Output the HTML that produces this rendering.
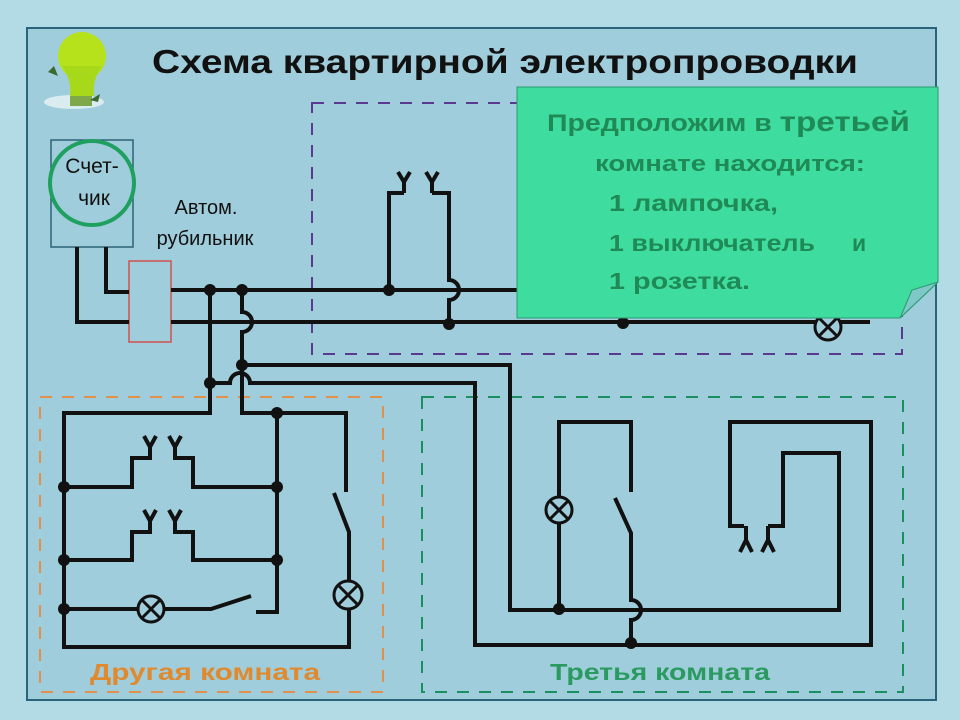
<!DOCTYPE html>
<html><head><meta charset="utf-8"><style>
html,body{margin:0;padding:0;background:#b3dbe5;}
svg{display:block}
text{font-family:"Liberation Sans","DejaVu Sans",sans-serif}
</style></head><body>
<svg width="960" height="720" viewBox="0 0 960 720" xmlns="http://www.w3.org/2000/svg">
<rect x="0" y="0" width="960" height="720" fill="#b3dbe5"/>
<rect x="27" y="28" width="909" height="672" fill="#a0cddb" stroke="#2a6478" stroke-width="2"/>
<!-- bulb -->
<ellipse cx="74" cy="102" rx="30" ry="7" fill="#e8f4f4" opacity="0.8"/>
<circle cx="82" cy="56" r="24" fill="#b6e21c"/>
<path d="M62 66 Q72 80 70 96 L94 96 Q92 80 102 66 Z" fill="#a8d81a"/>
<rect x="70" y="96" width="22" height="10" fill="#7fa84a"/>
<path d="M48 72 l6 -6 l4 10 z" fill="#3a6a30"/>
<path d="M90 100 l10 -6 l-2 8 z" fill="#3a6a30"/>
<!-- title -->
<text x="152" y="73" font-size="33" font-weight="bold" fill="#111" textLength="706" lengthAdjust="spacingAndGlyphs">Схема квартирной электропроводки</text>
<!-- meter -->
<rect x="51" y="140" width="82" height="107" fill="none" stroke="#2a6478" stroke-width="1.5"/>
<circle cx="92" cy="183" r="42" fill="none" stroke="#1fa060" stroke-width="4"/>
<text x="92" y="173" font-size="21" text-anchor="middle" fill="#111">Счет-</text>
<text x="94" y="205" font-size="21" text-anchor="middle" fill="#111">чик</text>
<text x="206" y="214" font-size="20" text-anchor="middle" fill="#111">Автом.</text>
<text x="205" y="245" font-size="20" text-anchor="middle" fill="#111">рубильник</text>
<rect x="129" y="261" width="42" height="81" fill="none" stroke="#d05050" stroke-width="1.5"/>
<!-- dashed rooms -->
<path d="M312 103 H902 V354 H312 Z" fill="none" stroke="#5a3a90" stroke-width="2" stroke-dasharray="12,10"/>
<path d="M40 397 H383 V692 H40 Z" fill="none" stroke="#e0904a" stroke-width="2" stroke-dasharray="12,10"/>
<path d="M422 397 H903 V692 H422 Z" fill="none" stroke="#1a9060" stroke-width="2" stroke-dasharray="12,10"/>
<g fill="none" stroke="#111" stroke-width="4">
<path d="M77 247 V322 H129"/>
<path d="M106 247 V292 H129"/>
<path d="M171 290 H915"/>
<path d="M171 322 H870"/>
<path d="M210 290 V413 H64 V647 H349 V610"/>
<path d="M242 290 V312 A10 10 0 0 1 242 332 V413 H346 V492"/>
<path d="M210 383 H230 A10 10 0 0 1 250 383 H475 V645 H871 V422 H730 V526 H744"/>
<path d="M242 365 H510 V610 H839 V453 H783 V526 H768"/>
<path d="M389 290 V193 H404"/>
<path d="M432 193 H449 V280 A10 10 0 0 1 449 300 V324"/>
<path d="M404 193 V182 M398 172 L404 182 L410 172"/>
<path d="M432 193 V182 M426 172 L432 182 L438 172"/>
<path d="M277 413 V612 H256"/>
<path d="M334 493 L349 532 V581"/>
<path d="M64 487 H132 V458 H150 V447 M144 436 L150 447 L156 436"/>
<path d="M175 447 V458 H193 V487 H277 M169 436 L175 447 L181 436"/>
<path d="M64 560 H132 V532 H150 V521 M144 510 L150 521 L156 510"/>
<path d="M175 521 V532 H193 V560 H277 M169 510 L175 521 L181 510"/>
<path d="M64 609 H138 M164 609 H211 L251 596"/>
<path d="M559 610 V523 M559 497 V422 H631 V492"/>
<path d="M615 498 L631 533 V600 A10 10 0 0 1 631 620 V645"/>
<path d="M746 526 V540 M740 552 L746 540 L752 552"/>
<path d="M768 526 V540 M762 552 L768 540 L774 552"/>
</g>
<g fill="#a0cddb" stroke="#111" stroke-width="3">
<circle cx="151" cy="609" r="13"/><path d="M142 600 L160 618 M160 600 L142 618"/>
<circle cx="348" cy="595" r="14"/><path d="M338 585 L358 605 M358 585 L338 605"/>
<circle cx="559" cy="510" r="13"/><path d="M550 501 L568 519 M568 501 L550 519"/>
<circle cx="828" cy="327" r="13"/><path d="M819 318 L837 336 M837 318 L819 336"/>
</g>
<g fill="#111">
<circle cx="210" cy="290" r="6"/><circle cx="242" cy="290" r="6"/>
<circle cx="210" cy="383" r="6"/><circle cx="242" cy="365" r="6"/>
<circle cx="389" cy="290" r="6"/><circle cx="449" cy="324" r="6"/><circle cx="623" cy="323" r="6"/>
<circle cx="277" cy="413" r="6"/><circle cx="64" cy="487" r="6"/><circle cx="277" cy="487" r="6"/>
<circle cx="64" cy="560" r="6"/><circle cx="277" cy="560" r="6"/><circle cx="64" cy="609" r="6"/>
<circle cx="559" cy="609" r="6"/><circle cx="631" cy="643" r="6"/>
</g>
<!-- note -->
<path d="M517 87 H938 V282 L900 318 H517 Z" fill="#3fdc9f" stroke="#2a9a70" stroke-width="1"/>
<path d="M938 282 L900 318 L912 290 Z" fill="#7ec8c8" stroke="#2a9a70" stroke-width="1"/>
<g fill="#1f8a55" font-weight="bold">
<text x="547" y="131" font-size="24" textLength="363" lengthAdjust="spacingAndGlyphs">Предположим в <tspan font-size="28">третьей</tspan></text>
<text x="595" y="171" font-size="22" textLength="270" lengthAdjust="spacingAndGlyphs">комнате находится:</text>
<text x="609" y="211" font-size="23" textLength="169" lengthAdjust="spacingAndGlyphs">1 лампочка,</text>
<text x="609" y="251" font-size="23" textLength="206" lengthAdjust="spacingAndGlyphs">1 выключатель</text>
<text x="852" y="251" font-size="23">и</text>
<text x="609" y="289" font-size="23" textLength="141" lengthAdjust="spacingAndGlyphs">1 розетка.</text>
</g>
<text x="90" y="680" font-size="23" font-weight="bold" fill="#e08a30" textLength="230" lengthAdjust="spacingAndGlyphs">Другая  комната</text>
<text x="550" y="680" font-size="23" font-weight="bold" fill="#2a9a60" textLength="220" lengthAdjust="spacingAndGlyphs">Третья  комната</text>
</svg>
</body></html>
